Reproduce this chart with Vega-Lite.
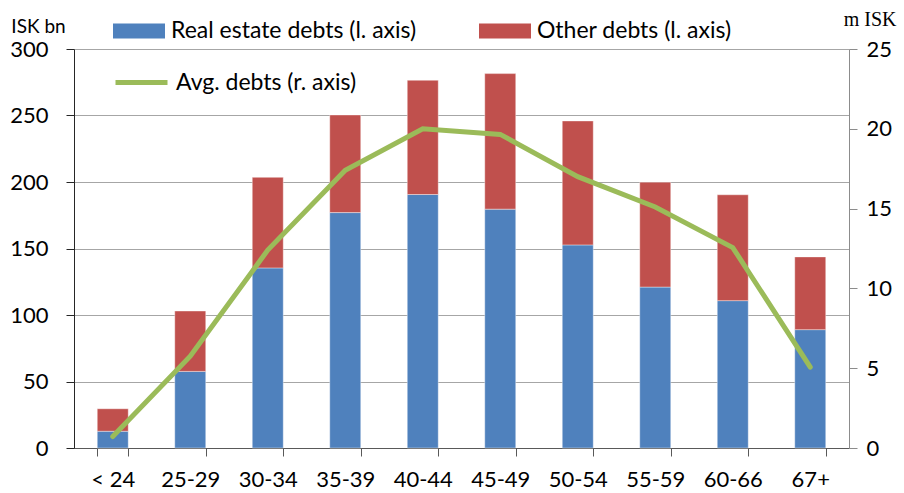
{
  "$schema": "https://vega.github.io/schema/vega-lite/v6.json",
  "width": 775,
  "height": 399,
  "autosize": {"type": "none"},
  "padding": {"left": 74, "top": 49, "right": 55, "bottom": 45},
  "background": "white",
  "config": {
    "font": "Lato",
    "view": {"stroke": null},
    "axis": {"labelFont": "Lato", "labelColor": "#000000", "labelFontSize": 22, "tickSize": 8, "titleFont": "Lato", "titleColor": "#000000", "titleFontWeight": "normal"},
    "legend": {"labelFont": "Lato", "labelFontSize": 23, "labelColor": "#000000", "labelLimit": 400, "labelOffset": 6, "padding": 0, "title": null}
  },
  "datasets": {
    "debts": [
      {"age": "< 24", "type": "Real estate debts (l. axis)", "value": 12.6},
      {"age": "< 24", "type": "Other debts (l. axis)", "value": 16.9},
      {"age": "25-29", "type": "Real estate debts (l. axis)", "value": 57.6},
      {"age": "25-29", "type": "Other debts (l. axis)", "value": 45.4},
      {"age": "30-34", "type": "Real estate debts (l. axis)", "value": 135.4},
      {"age": "30-34", "type": "Other debts (l. axis)", "value": 68.1},
      {"age": "35-39", "type": "Real estate debts (l. axis)", "value": 177.0},
      {"age": "35-39", "type": "Other debts (l. axis)", "value": 73.4},
      {"age": "40-44", "type": "Real estate debts (l. axis)", "value": 190.6},
      {"age": "40-44", "type": "Other debts (l. axis)", "value": 85.9},
      {"age": "45-49", "type": "Real estate debts (l. axis)", "value": 179.6},
      {"age": "45-49", "type": "Other debts (l. axis)", "value": 101.9},
      {"age": "50-54", "type": "Real estate debts (l. axis)", "value": 152.7},
      {"age": "50-54", "type": "Other debts (l. axis)", "value": 93.2},
      {"age": "55-59", "type": "Real estate debts (l. axis)", "value": 121.0},
      {"age": "55-59", "type": "Other debts (l. axis)", "value": 78.9},
      {"age": "60-66", "type": "Real estate debts (l. axis)", "value": 110.8},
      {"age": "60-66", "type": "Other debts (l. axis)", "value": 79.6},
      {"age": "67+", "type": "Real estate debts (l. axis)", "value": 89.0},
      {"age": "67+", "type": "Other debts (l. axis)", "value": 54.7}
    ],
    "average": [
      {"age": "< 24", "avg": 0.72},
      {"age": "25-29", "avg": 5.75},
      {"age": "30-34", "avg": 12.4},
      {"age": "35-39", "avg": 17.4},
      {"age": "40-44", "avg": 20.0},
      {"age": "45-49", "avg": 19.65},
      {"age": "50-54", "avg": 17.0},
      {"age": "55-59", "avg": 15.1},
      {"age": "60-66", "avg": 12.56},
      {"age": "67+", "avg": 5.07}
    ]
  },
  "encoding": {
    "x": {
      "field": "age",
      "type": "nominal",
      "sort": ["< 24", "25-29", "30-34", "35-39", "40-44", "45-49", "50-54", "55-59", "60-66", "67+"],
      "scale": {"paddingInner": 0.6, "paddingOuter": 0.3},
      "axis": {
        "title": null,
        "labelAngle": 0,
        "labelPadding": 13,
        "tickBand": "extent",
        "domainColor": "#595959",
        "tickColor": "#595959",
        "grid": false
      }
    }
  },
  "layer": [
    {
      "data": {"name": "debts"},
      "mark": {"type": "bar", "stroke": "#ffffff", "strokeOpacity": 0.5, "strokeWidth": 0.8},
      "encoding": {
        "y": {
          "field": "value",
          "type": "quantitative",
          "stack": "zero",
          "scale": {"domain": [0, 300], "nice": false},
          "axis": {
            "title": "ISK bn",
            "titleAngle": 0,
            "titleFontSize": 19,
            "titleAlign": "center",
            "titleBaseline": "alphabetic",
            "titleX": -36,
            "titleY": -17,
            "values": [0, 50, 100, 150, 200, 250, 300],
            "labelPadding": 18,
            "domainColor": "#262626",
            "tickColor": "#262626",
            "gridColor": "#a6a6a6",
            "gridWidth": 1.2
          }
        },
        "color": {
          "field": "type",
          "type": "nominal",
          "sort": ["Real estate debts (l. axis)", "Other debts (l. axis)"],
          "scale": {
            "domain": ["Real estate debts (l. axis)", "Other debts (l. axis)"],
            "range": ["#4f81bd", "#c0504d"]
          },
          "legend": {
            "orient": "none",
            "legendX": 39,
            "legendY": -44,
            "direction": "horizontal",
            "columns": 2,
            "columnPadding": 62,
            "symbolType": "M-1,-0.29H1V0.29H-1Z",
            "symbolSize": 2704,
            "symbolStrokeWidth": 0,
            "symbolOpacity": 1
          }
        },
        "order": {"field": "type", "sort": "descending"}
      }
    },
    {
      "data": {"name": "average"},
      "mark": {"type": "line", "strokeWidth": 5, "strokeCap": "round", "strokeJoin": "miter"},
      "encoding": {
        "y": {
          "field": "avg",
          "type": "quantitative",
          "scale": {"domain": [0, 25], "nice": false},
          "axis": {
            "orient": "right",
            "title": "m ISK",
            "titleFont": "Liberation Serif",
            "titleFontSize": 20,
            "titleAngle": 0,
            "titleAlign": "right",
            "titleBaseline": "alphabetic",
            "titleX": 47,
            "titleY": -24,
            "values": [0, 5, 10, 15, 20, 25],
            "labelPadding": 9,
            "grid": false,
            "domainColor": "#8c8c8c",
            "tickColor": "#8c8c8c"
          }
        },
        "stroke": {
          "datum": "Avg. debts (r. axis)",
          "scale": {"range": ["#9bbb59"]},
          "legend": {
            "orient": "none",
            "legendX": 39,
            "legendY": 5,
            "symbolType": "stroke",
            "symbolSize": 2704,
            "symbolStrokeWidth": 5
          }
        }
      }
    }
  ],
  "resolve": {"scale": {"y": "independent"}}
}
